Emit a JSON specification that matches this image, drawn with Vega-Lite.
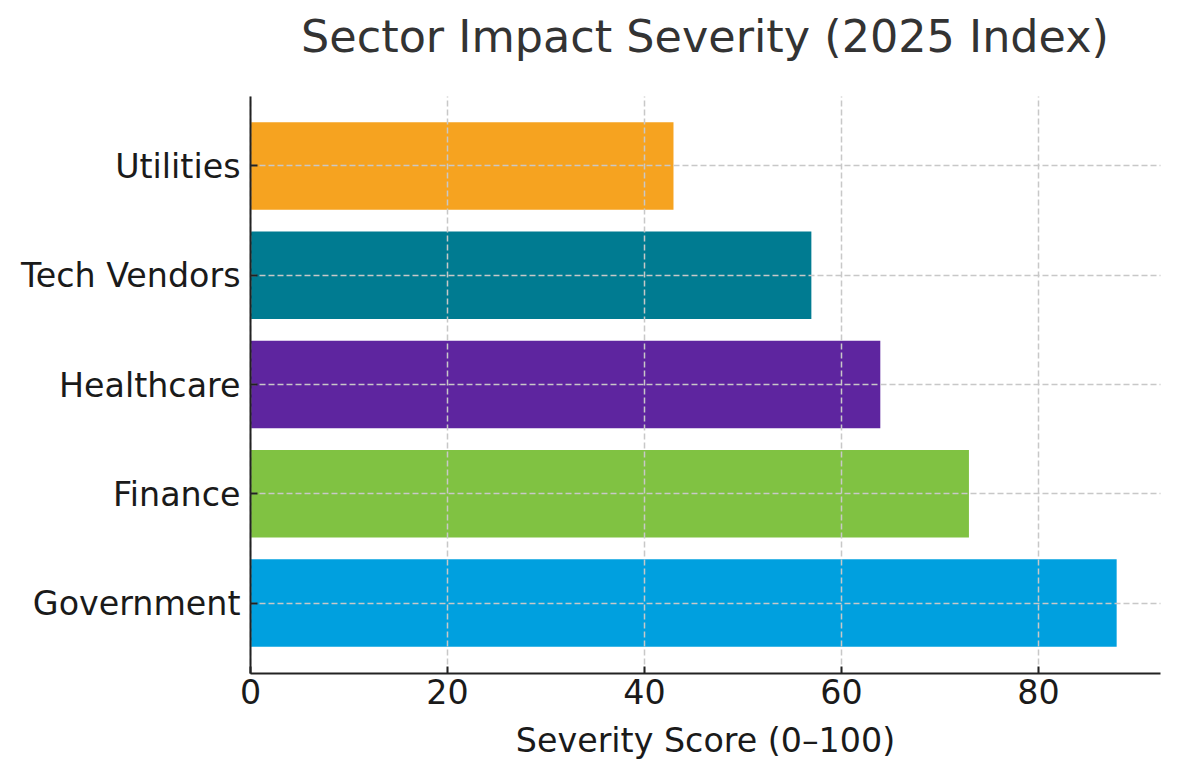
{
  "$schema": "https://vega.github.io/schema/vega-lite/v6.json",
  "autosize": "none",
  "padding": {"left": 250, "top": 96, "right": 20, "bottom": 107},
  "width": 910,
  "height": 577,
  "background": "white",
  "config": {
    "view": {"stroke": null},
    "font": "DejaVu Sans"
  },
  "title": {
    "text": "Sector Impact Severity (2025 Index)",
    "fontSize": 44.5,
    "font": "DejaVu Sans",
    "fontWeight": "normal",
    "color": "#333333",
    "anchor": "middle",
    "baseline": "alphabetic",
    "offset": 0
  },
  "data": {
    "values": [
      {"sector": "Utilities", "score": 43},
      {"sector": "Tech Vendors", "score": 57},
      {"sector": "Healthcare", "score": 64},
      {"sector": "Finance", "score": 73},
      {"sector": "Government", "score": 88}
    ]
  },
  "mark": {"type": "bar"},
  "encoding": {
    "y": {
      "field": "sector",
      "type": "nominal",
      "sort": ["Utilities", "Tech Vendors", "Healthcare", "Finance", "Government"],
      "scale": {"paddingInner": 0.2, "paddingOuter": 0.24},
      "axis": {
        "title": null,
        "zindex": 1,
        "labelFontSize": 33.3,
        "labelFont": "DejaVu Sans",
        "labelColor": "#1a1a1a",
        "labelPadding": 17,
        "labelLimit": 400,
        "labelOffset": 2,
        "tickSize": -7,
        "tickColor": "#222222",
        "tickWidth": 2,
        "domainColor": "#222222",
        "domainWidth": 2,
        "grid": true,
        "gridColor": "#c8c8c8",
        "gridWidth": 1.5,
        "gridDash": [6, 3]
      }
    },
    "x": {
      "field": "score",
      "type": "quantitative",
      "scale": {"domain": [0, 92.4], "nice": false, "zero": true},
      "axis": {
        "title": "Severity Score (0–100)",
        "titleFontSize": 33.3,
        "titleFont": "DejaVu Sans",
        "titleFontWeight": "normal",
        "titleColor": "#1a1a1a",
        "titlePadding": 16,
        "zindex": 1,
        "values": [0, 20, 40, 60, 80],
        "labelFontSize": 33.3,
        "labelFont": "DejaVu Sans",
        "labelColor": "#1a1a1a",
        "labelPadding": 11,
        "labelFlush": false,
        "tickSize": -7,
        "tickColor": "#222222",
        "tickWidth": 2,
        "domainColor": "#222222",
        "domainWidth": 2,
        "grid": true,
        "gridColor": "#c8c8c8",
        "gridWidth": 1.5,
        "gridDash": [6, 3]
      }
    },
    "color": {
      "field": "sector",
      "type": "nominal",
      "scale": {
        "domain": ["Utilities", "Tech Vendors", "Healthcare", "Finance", "Government"],
        "range": ["#F6A320", "#007B91", "#5E259F", "#80C242", "#00A0DF"]
      },
      "legend": null
    }
  }
}
